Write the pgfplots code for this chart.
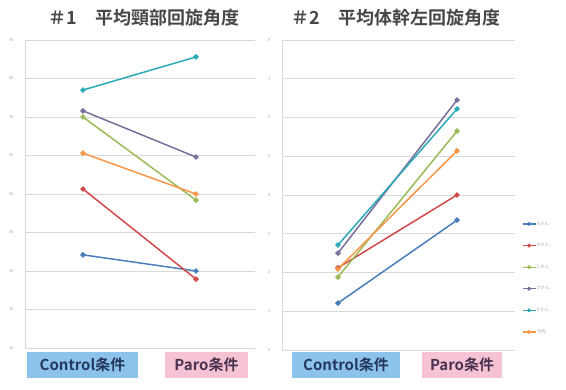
\documentclass[border=0pt]{standalone}
\usepackage{pgfplots}
\pgfplotsset{compat=1.18}
\usepackage{fontspec}
\setmainfont{Noto Sans CJK JP}
\newfontfamily\titlefont{Noto Sans CJK JP Bold}

\definecolor{sBlue}{HTML}{4A7EBB}
\definecolor{sRed}{HTML}{D04A4A}
\definecolor{sGreen}{HTML}{9BBB59}
\definecolor{sPurple}{HTML}{7A6F9B}
\definecolor{sTeal}{HTML}{2BAAB8}
\definecolor{sOrange}{HTML}{F79646}
\definecolor{boxBlue}{HTML}{8CC3EC}
\definecolor{boxPink}{HTML}{F6C3D5}
\definecolor{gridGray}{HTML}{D9D9D9}
\definecolor{ctrlText}{HTML}{24385E}
\definecolor{paroText}{HTML}{4A3350}

\pgfplotsset{
  panel/.style={
    scale only axis,
    axis lines*=left,
    axis line style={-},
    x axis line style={draw=none},
    y axis line style={draw=gridGray, line width=0.8pt},
    ymajorgrids,
    grid style={gridGray, line width=0.8pt},
    xtick=\empty,
    major tick length=0pt,
    /pgf/number format/assume math mode=true,
    yticklabel style={font=\fontsize{4}{4}\selectfont, text=gray!70, xshift=-8pt},
    clip=false,
  },
  ser/.style={color=#1, line width=1.5pt, mark=*, mark size=1.9pt, mark options={solid, fill=#1}},
}

\begin{document}
\begin{tikzpicture}
\useasboundingbox (0pt,0pt) rectangle (566pt,390pt);

% Panel 1: mean neck rotation angle
\begin{axis}[panel, at={(25pt,42pt)}, anchor=south west, width=230pt, height=308pt,
  xmin=-0.513, xmax=1.522, ymin=10, ymax=90, ytick={10,20,...,90}]
\addplot[ser=sBlue]   coordinates {(0,34.2) (1,30.0)};
\addplot[ser=sRed]    coordinates {(0,51.3) (1,27.9)};
\addplot[ser=sGreen]  coordinates {(0,70.0) (1,48.4)};
\addplot[ser=sPurple] coordinates {(0,71.6) (1,59.6)};
\addplot[ser=sTeal]   coordinates {(0,77.0) (1,85.6)};
\addplot[ser=sOrange] coordinates {(0,60.6) (1,50.0)};
\end{axis}

% Panel 2: mean trunk left rotation angle
\begin{axis}[panel, at={(282pt,40pt)}, anchor=south west, width=233pt, height=310pt,
  xmin=-0.47, xmax=1.487, ymin=0, ymax=8, ytick={0,1,...,8},
  legend style={at={(1.03,0.418)}, anchor=north west, draw=none, fill=none,
    font=\fontsize{4.5}{5}\selectfont, text=gray!70, row sep=14.5pt,
    legend cell align=left, inner sep=0pt, outer sep=0pt,
    nodes={inner sep=1pt}},
  legend image code/.code={\draw[#1, line width=1.2pt, mark size=1.3pt] (0pt,0pt) -- (13pt,0pt) plot coordinates {(6.5pt,0pt)};}]
\addplot[ser=sBlue]   coordinates {(0,1.21) (1,3.35)};
\addplot[ser=sRed]    coordinates {(0,2.12) (1,4.00)};
\addplot[ser=sGreen]  coordinates {(0,1.88) (1,5.65)};
\addplot[ser=sPurple] coordinates {(0,2.50) (1,6.45)};
\addplot[ser=sTeal]   coordinates {(0,2.71) (1,6.22)};
\addplot[ser=sOrange] coordinates {(0,2.09) (1,5.14)};
\legend{Aさん, Bさん, Cさん, Dさん, Eさん, 平均}
\end{axis}

% Titles
\node[font=\titlefont\fontsize{18}{18}\selectfont, text=black!72, inner sep=0pt] at (144pt,372pt) {＃1　平均頸部回旋角度};
\node[font=\titlefont\fontsize{18}{18}\selectfont, text=black!72, inner sep=0pt] at (396pt,372pt) {＃2　平均体幹左回旋角度};

% Condition labels
\tikzset{cond/.style={font=\titlefont\fontsize{15}{15}\selectfont, inner sep=0pt, minimum height=26pt}}
\node[cond, fill=boxBlue, text=ctrlText, minimum width=111pt] at (82.5pt,25pt) {Control条件};
\node[cond, fill=boxPink, text=paroText, minimum width=83pt] at (206.5pt,25pt) {Paro条件};
\node[cond, fill=boxBlue, text=ctrlText, minimum width=108pt] at (346pt,25pt) {Control条件};
\node[cond, fill=boxPink, text=paroText, minimum width=80pt] at (462pt,25pt) {Paro条件};
\end{tikzpicture}
\end{document}
